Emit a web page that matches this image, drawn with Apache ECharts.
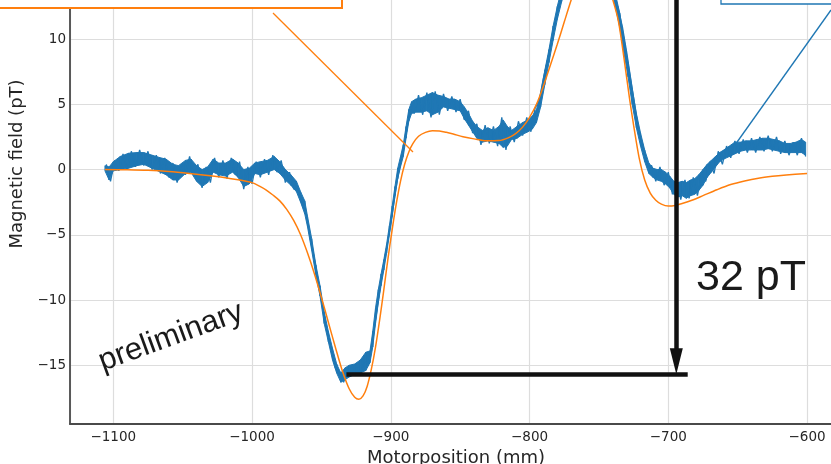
<!DOCTYPE html>
<html><head><meta charset="utf-8">
<script src="https://cdn.jsdelivr.net/npm/echarts@6/dist/echarts.min.js"></script>
<style>
html,body{margin:0;padding:0;width:831px;height:464px;overflow:hidden;background:#fff;}
#c{position:absolute;left:0;top:-96px;width:842px;height:560px;}
</style>
</head><body><div id="c"></div>
<script>
// Measured data (blue): noisy trace
const blueX = [-1105,-1102,-1099,-1096,-1093,-1090,-1087,-1084,-1081,-1078,-1075,-1072,-1069,-1066,-1063,-1060,-1057,-1054,-1051,-1048,-1045,-1042,-1039,-1036,-1033,-1030,-1027,-1024,-1021,-1018,-1015,-1012,-1009,-1006,-1003,-1000,-997,-994,-991,-988,-985,-982,-979,-976,-973,-970,-967,-964,-961,-958,-955,-952,-949,-946,-943,-940,-937,-934,-931,-928,-925,-922,-919,-916,-913,-910,-907,-904,-901,-898,-895,-892,-889,-886,-883,-880,-877,-874,-871,-868,-865,-862,-859,-856,-853,-850,-847,-844,-841,-838,-835,-832,-829,-826,-823,-820,-817,-814,-811,-808,-805,-802,-799,-796,-793,-790,-787,-784,-781,-778,-775,-772,-769,-766,-763,-760,-757,-754,-751,-748,-745,-742,-739,-736,-733,-730,-727,-724,-721,-718,-715,-712,-709,-706,-703,-700,-697,-694,-691,-688,-685,-682,-679,-676,-673,-670,-667,-664,-661,-658,-655,-652,-649,-646,-643,-640,-637,-634,-631,-628,-625,-622,-619,-616,-613,-610,-607,-604,-601];
const blueY = [0.4,-0.9,0.7,-0.1,1.2,0.0,1.4,0.2,1.5,0.3,1.4,0.0,1.1,-0.3,0.9,-0.6,0.5,-1.0,0.4,-0.4,1.0,-0.5,0.4,-1.4,0.2,-1.0,0.9,-0.6,0.7,-0.7,0.9,-0.4,0.6,-1.5,0.2,-1.1,0.6,-0.6,0.8,-0.4,1.1,-0.2,0.7,-1.0,-0.2,-1.5,-1.3,-2.6,-3.3,-5.3,-6.9,-8.9,-10.5,-12.4,-13.8,-15.2,-15.5,-16.3,-15.3,-15.8,-15.0,-15.6,-14.7,-14.9,-13.0,-10.8,-8.6,-6.6,-4.8,-2.7,-0.6,1.0,2.7,4.6,4.3,5.7,4.2,5.9,4.0,6.0,4.2,5.8,4.5,5.6,4.4,5.4,3.8,4.5,2.8,3.5,1.9,3.4,2.0,3.3,1.8,4.0,1.5,3.3,2.1,3.7,2.6,4.0,2.9,4.7,5.3,7.0,8.4,10.0,11.6,12.9,14.2,15.3,16.2,17.0,17.5,17.8,17.9,17.7,17.3,16.6,15.7,14.6,13.3,12.3,10.9,9.0,6.9,4.8,2.8,1.7,0.3,0.3,-0.9,0.2,-1.2,-0.2,-1.9,-0.7,-2.3,-0.8,-2.2,-0.6,-2.0,-0.4,-0.9,0.6,-0.3,1.4,0.4,1.8,0.9,2.2,1.2,2.3,1.3,2.4,1.3,2.5,1.4,2.6,1.4,2.5,1.2,2.2,1.1,2.1,1.1,2.4,1.0];

// Measured data (blue): extent of the noise band (low / high edge)
const bandX = [-1106,-1103,-1100,-1095,-1089,-1083,-1078,-1072,-1066,-1062,-1057,-1053,-1048,-1044,-1040,-1036,-1032,-1028,-1024,-1019,-1014,-1010,-1006,-1002,-998,-994,-989,-984,-980,-976,-972,-968,-965,-962,-960,-957,-954,-951,-948,-945,-942,-939,-936,-933,-930,-926,-922,-918,-915,-913,-911,-909,-907,-905,-903,-901,-899,-897,-895,-893,-891,-889,-887,-885,-882,-878,-874,-870,-866,-862,-858,-854,-850,-847,-844,-841,-838,-834,-830,-826,-822,-819,-816,-813,-809,-805,-801,-798,-795,-792,-789,-786,-783,-780,-777,-774,-770,-765,-760,-755,-750,-745,-741,-738,-735,-732,-729,-726,-723,-720,-717,-714,-711,-708,-705,-702,-699,-696,-693,-690,-687,-684,-681,-678,-675,-672,-669,-666,-663,-660,-656,-652,-648,-644,-640,-636,-632,-628,-624,-620,-616,-612,-608,-604,-601];
const bandLo = [-0.1,-0.8,-0.1,0.0,0.1,0.3,0.4,0.1,-0.2,-0.4,-0.8,-0.8,-0.3,-0.2,-0.9,-1.3,-1.0,-0.2,-0.4,-0.5,-0.2,-0.6,-1.3,-1.1,-0.3,-0.4,-0.2,0.0,-0.3,-0.8,-1.2,-1.7,-2.5,-3.4,-4.4,-6.2,-8.1,-9.7,-11.8,-13.2,-14.6,-15.6,-16.3,-16.1,-15.9,-15.7,-15.6,-15.4,-14.8,-13.6,-11.8,-10.2,-8.9,-7.7,-6.4,-5.0,-3.6,-2.0,-0.7,0.2,1.0,2.4,3.7,4.3,4.4,4.4,4.5,4.2,4.4,4.8,4.7,4.6,4.5,3.9,3.4,2.9,2.4,2.1,2.2,2.1,2.0,1.7,1.8,2.3,2.4,2.7,2.9,3.1,3.6,4.8,6.5,8.2,9.9,11.5,12.8,13.9,15.0,16.5,17.2,17.3,16.8,15.4,13.8,12.4,10.9,9.0,7.1,5.0,3.2,1.8,0.6,-0.3,-0.6,-0.8,-0.9,-1.1,-1.4,-1.9,-2.1,-2.0,-2.2,-2.0,-1.9,-1.6,-1.2,-0.6,-0.2,0.2,0.6,0.8,1.0,1.2,1.4,1.5,1.5,1.5,1.5,1.6,1.5,1.4,1.3,1.3,1.3,1.3,1.1];
const bandHi = [0.3,0.2,0.6,1.0,1.25,1.3,1.3,1.1,0.9,0.8,0.4,0.3,0.7,0.8,0.3,0.0,0.2,0.8,0.5,0.5,0.8,0.5,0.0,0.1,0.5,0.6,0.7,1.0,0.6,0.0,-0.4,-0.9,-1.7,-2.4,-3.6,-5.3,-7.3,-8.9,-10.9,-12.4,-13.7,-14.9,-15.6,-15.2,-15.0,-14.9,-14.6,-14.0,-13.9,-12.4,-10.6,-9.2,-8.0,-6.9,-5.7,-4.3,-2.8,-1.3,0.1,1.0,1.9,3.3,4.6,5.2,5.4,5.5,5.7,5.9,5.7,5.6,5.4,5.4,5.2,4.8,4.3,3.7,3.3,3.0,3.2,3.0,3.3,3.8,3.3,3.0,3.3,3.6,3.8,4.1,4.6,5.8,7.6,9.2,11.0,12.5,13.8,14.9,16.0,17.5,18.2,18.3,17.8,16.4,14.8,13.4,12.0,10.1,8.2,6.2,4.3,2.8,1.5,0.5,0.1,0.0,0.0,-0.2,-0.5,-0.9,-1.0,-0.9,-1.0,-0.8,-0.7,-0.4,0.0,0.4,0.7,1.0,1.3,1.5,1.8,2.1,2.1,2.2,2.2,2.3,2.4,2.4,2.3,2.2,2.0,2.0,2.1,2.3,2.1];

// Fit curve (orange)
const fitX = [-1106,-1090,-1075,-1060,-1045,-1030,-1015,-1005,-1000,-995,-990,-985,-980,-975,-970,-965,-960,-955,-950,-945,-940,-935,-930,-926,-923,-920,-917,-914,-911,-908,-905,-902,-899,-896,-893,-890,-887,-884,-880,-875,-870,-865,-860,-855,-848,-840,-831,-822,-815,-810,-805,-800,-795,-790,-785,-780,-775,-770,-765,-760,-755,-750,-745,-740,-736,-732,-728,-725,-721,-717,-713,-709,-705,-700,-695,-690,-683,-675,-665,-655,-645,-635,-625,-615,-600];
const fitY = [0,-0.02,-0.06,-0.15,-0.3,-0.48,-0.7,-0.88,-1.0,-1.25,-1.55,-1.95,-2.4,-3.05,-3.9,-5.0,-6.4,-8.0,-9.8,-11.7,-13.6,-15.4,-16.8,-17.45,-17.6,-17.35,-16.6,-15.3,-13.6,-11.5,-9.2,-6.8,-4.6,-2.6,-0.9,0.4,1.35,2.0,2.55,2.85,2.97,2.95,2.85,2.72,2.52,2.35,2.2,2.22,2.45,2.75,3.25,4.0,5.0,6.4,8.0,9.6,11.3,13.0,14.5,15.5,15.9,15.6,14.6,13.0,11.4,8.6,5.5,3.4,0.9,-0.8,-1.8,-2.35,-2.65,-2.8,-2.75,-2.6,-2.35,-2.0,-1.55,-1.15,-0.87,-0.66,-0.52,-0.42,-0.3];

// Annotation: 32 pT amplitude marker
const levelY = -15.69;
const levelX = [-932, -686];
const arrowX = -694.2;
const arrowTop = 20.3;
const arrowHeadCenterY = -14.7;

const xRange = [-1131.2, -574.8];
const yRange = [-19.5, 20.35];

const BLUE = '#1f77b4';
const ORANGE = '#ff7f0e';

const chart = echarts.init(document.getElementById('c'));
const fmt = v => String(v).replace('-', '\u2212');
const gridLine = {show: true, lineStyle: {color: '#dddddd', width: 1.2}};
const axisLine = {show: true, onZero: false, lineStyle: {color: '#4a4a4a', width: 1.8}};

chart.setOption({
  animation: false,
  backgroundColor: '#ffffff',
  grid: {left: 70, right: 0, top: 0, bottom: 40, containLabel: false, outerBoundsMode: 'none'},
  xAxis: {
    type: 'value', min: xRange[0], max: xRange[1], splitNumber: 5,
    minInterval: 100, maxInterval: 100,
    name: 'Motorposition (mm)', nameLocation: 'middle', nameGap: 21,
    nameTextStyle: {fontFamily: 'DejaVu Sans', fontSize: 18, color: '#262626'},
    axisLine: axisLine, axisTick: {show: false},
    axisLabel: {showMinLabel: false, showMaxLabel: false, margin: 6, formatter: fmt,
      fontFamily: 'DejaVu Sans', fontSize: 13.5, color: '#262626'},
    splitLine: gridLine
  },
  yAxis: {
    type: 'value', min: yRange[0], max: yRange[1], splitNumber: 5,
    minInterval: 5, maxInterval: 5,
    name: 'Magnetic field (pT)', nameLocation: 'middle', nameGap: 37,
    nameTextStyle: {fontFamily: 'DejaVu Sans', fontSize: 18, color: '#262626'},
    axisLine: axisLine, axisTick: {show: false},
    axisLabel: {showMinLabel: false, showMaxLabel: false, margin: 4, formatter: fmt,
      fontFamily: 'DejaVu Sans', fontSize: 13.5, color: '#262626'},
    splitLine: gridLine
  },
  series: [
    {
      type: 'custom', name: 'band', clip: true, z: 1, silent: true,
      data: bandX.map((x, i) => [x, bandLo[i], bandHi[i]]),
      encode: {x: 0, y: [1, 2]},
      renderItem: function (params, api) {
        const i = params.dataIndex;
        if (i >= bandX.length - 1) return null;
        const a = api.coord([bandX[i], bandLo[i]]);
        const b = api.coord([bandX[i], bandHi[i]]);
        const c = api.coord([bandX[i + 1], bandHi[i + 1]]);
        const d = api.coord([bandX[i + 1], bandLo[i + 1]]);
        return {type: 'polygon', shape: {points: [a, b, c, d]},
          style: {fill: BLUE, stroke: BLUE, lineWidth: 1.0}};
      }
    },
    {
      type: 'line', name: 'data', showSymbol: false, symbol: 'none',
      data: blueX.map((x, i) => [x, blueY[i]]),
      lineStyle: {color: BLUE, width: 1.3}, z: 2
    },
    {
      type: 'line', name: 'fit', showSymbol: false, symbol: 'none', smooth: 0.3,
      data: fitX.map((x, i) => [x, fitY[i]]),
      lineStyle: {color: ORANGE, width: 1.5}, z: 3
    },
    {
      type: 'line', name: 'marker', data: [], z: 5, silent: true,
      markLine: {
        silent: true, animation: false, symbol: ['none', 'none'],
        label: {show: false},
        emphasis: {disabled: true},
        lineStyle: {color: '#111111', width: 4.5, type: 'solid'},
        data: [
          [{coord: [levelX[0], levelY], symbol: 'none'}, {coord: [levelX[1], levelY], symbol: 'none'}],
          [{coord: [arrowX, arrowTop], symbol: 'none'}, {coord: [arrowX, arrowHeadCenterY], symbol: 'triangle', symbolSize: [13, 26]}]
        ]
      }
    }
  ],
  graphic: [
    {type: 'rect', shape: {x: -10, y: -10, width: 352, height: 114},
      style: {fill: '#ffffff', stroke: ORANGE, lineWidth: 2}, z: 10},
    {type: 'rect', shape: {x: 721, y: -10, width: 200, height: 110},
      style: {fill: '#ffffff', stroke: BLUE, lineWidth: 1.3}, z: 10},
    {type: 'line', shape: {x1: 273, y1: 109, x2: 413, y2: 248},
      style: {stroke: ORANGE, lineWidth: 1.3}, z: 10},
    {type: 'line', shape: {x1: 730, y1: 248, x2: 831, y2: 106},
      style: {stroke: BLUE, lineWidth: 1.3}, z: 10},
    {type: 'text', x: 696, y: 374.5,
      style: {text: '32 pT', fontFamily: 'Liberation Sans', fontSize: 43, fill: '#1a1a1a',
        textAlign: 'left', textVerticalAlign: 'middle'}, z: 10},
    {type: 'text', x: 171, y: 433, rotation: 20 * Math.PI / 180,
      style: {text: 'preliminary', fontFamily: 'Liberation Sans', fontSize: 31, fill: '#1a1a1a',
        textAlign: 'center', textVerticalAlign: 'middle'}, z: 10}
  ]
});
</script>
</body></html>
